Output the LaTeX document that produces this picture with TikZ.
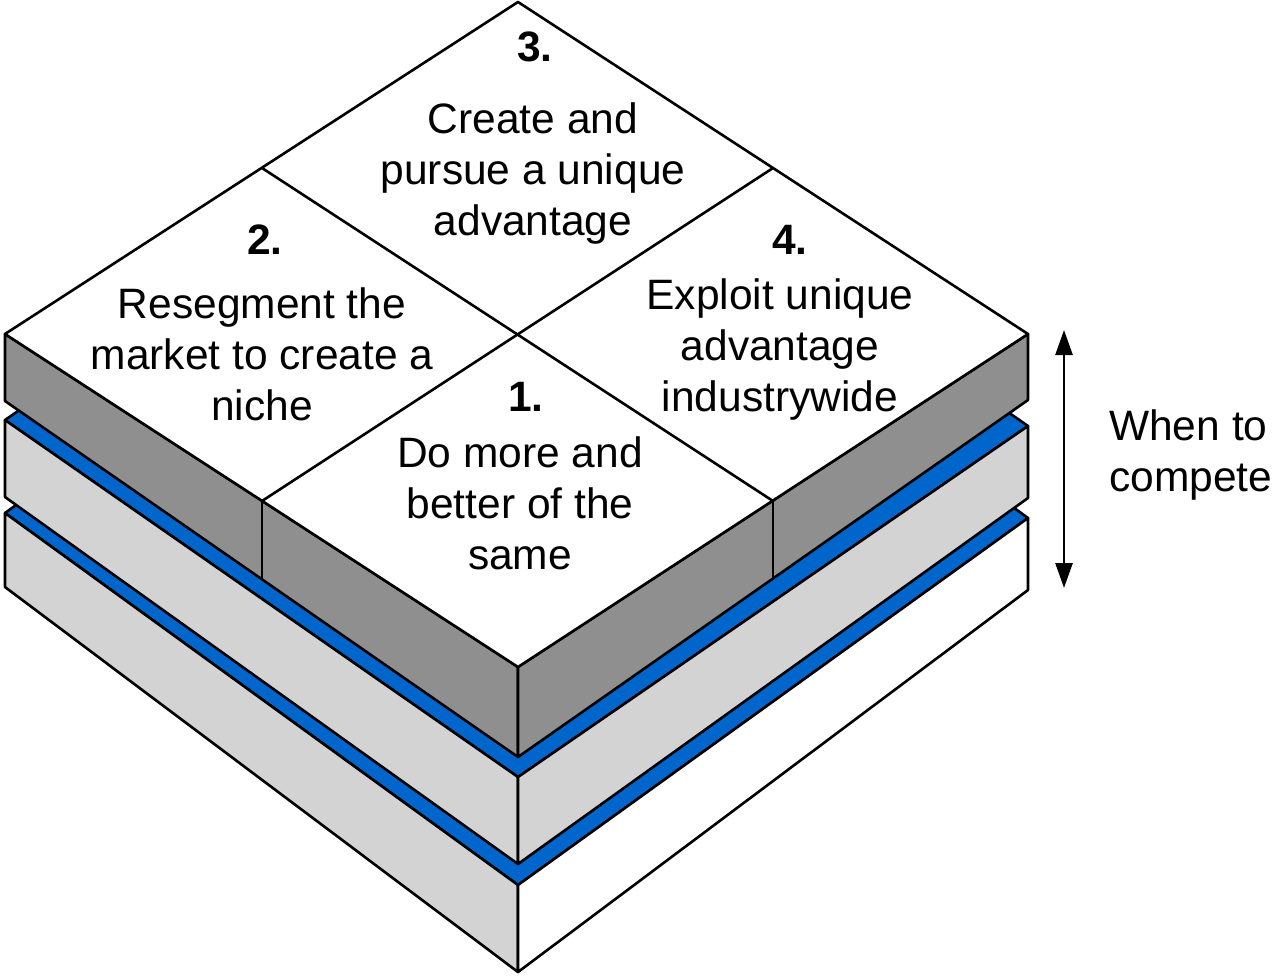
\documentclass[tikz,border=0pt]{standalone}
\usepackage{fontspec}
\setmainfont{Liberation Sans}
\usetikzlibrary{arrows.meta}
\definecolor{darkface}{RGB}{143,143,143}
\definecolor{lightface}{RGB}{211,211,211}
\definecolor{bluetop}{RGB}{0,102,204}
\tikzset{
  face/.style={draw=black, line width=2.6pt, line join=round},
  divider/.style={draw=black, line width=2.6pt, line cap=round},
  lbl/.style={align=center, inner sep=0pt, font=\fontsize{42.5}{51}\selectfont},
  num/.style={inner sep=0pt, font=\fontsize{42.5}{51}\selectfont\bfseries},
  sidelbl/.style={align=left, anchor=west, inner sep=0pt, font=\fontsize{42.5}{51}\selectfont},
  dblarrow/.style={line width=2.6pt, {Triangle[length=25pt,width=17pt]}-{Triangle[length=25pt,width=17pt]}}
}
\begin{document}
\begin{tikzpicture}[x=1pt,y=-1pt]
\useasboundingbox (0,0) rectangle (1273,975);
% block (top)
\coordinate (T) at (518,2);
\coordinate (L) at (5,334);
\coordinate (R) at (1028,334);
\coordinate (B) at (518,667);
\coordinate (Lb) at (5,401);
\coordinate (Bb) at (518,757);
\coordinate (Rb) at (1028,400);
\coordinate (mTL) at (262,168);
\coordinate (mTR) at (773,168);
\coordinate (mLB) at (262,501);
\coordinate (mBR) at (773,501);
\coordinate (dL) at (262,579);
\coordinate (dR) at (773,579);
% slab 1
\coordinate (L1) at (5,420);
\coordinate (B1) at (518,777);
\coordinate (R1) at (1028,426);
\coordinate (T1) at (515,69);
\coordinate (L1b) at (5,497);
\coordinate (B1b) at (518,864);
\coordinate (R1b) at (1028,498);
% slab 2
\coordinate (L2) at (5,513);
\coordinate (B2) at (518,885);
\coordinate (R2) at (1028,518);
\coordinate (T2) at (515,146);
\coordinate (L2b) at (5,587);
\coordinate (B2b) at (518,972);
\coordinate (R2b) at (1028,590);

% slab 2 (bottom)
\filldraw[face, fill=bluetop] (L2) -- (T2) -- (R2) -- (B2) -- cycle;
\filldraw[face, fill=lightface] (L2) -- (B2) -- (B2b) -- (L2b) -- cycle;
\filldraw[face, fill=white] (B2) -- (R2) -- (R2b) -- (B2b) -- cycle;
% slab 1 (middle)
\filldraw[face, fill=bluetop] (L1) -- (T1) -- (R1) -- (B1) -- cycle;
\filldraw[face, fill=lightface] (L1) -- (B1) -- (B1b) -- (L1b) -- cycle;
\filldraw[face, fill=lightface] (B1) -- (R1) -- (R1b) -- (B1b) -- cycle;
% block
\filldraw[face, fill=darkface] (L) -- (B) -- (Bb) -- (Lb) -- cycle;
\filldraw[face, fill=darkface] (B) -- (R) -- (Rb) -- (Bb) -- cycle;
\filldraw[face, fill=white] (L) -- (T) -- (R) -- (B) -- cycle;
\draw[divider] (mTL) -- (mBR);
\draw[divider] (mTR) -- (mLB);
\draw[divider] (mLB) -- (dL);
\draw[divider] (mBR) -- (dR);

% labels
\node[num] (n3) at (535,47) {3.};
\node[lbl] (t3) at (533,174) {Create and\\pursue a unique\\advantage};
\node[num] (n2) at (265,240) {2.};
\node[lbl] (t2) at (262,354) {Resegment the\\market to create a\\niche};
\node[num] (n1) at (526,397) {1.};
\node[lbl] (t1) at (520,503) {Do more and\\better of the\\same};
\node[num] (n4) at (790,240) {4.};
\node[lbl] (t4) at (780,350) {Exploit unique\\advantage\\industrywide};

% arrow
\coordinate (aTop) at (1064,330);
\coordinate (aBot) at (1064,588);
\draw[dblarrow] (aTop) -- (aBot);
\node[sidelbl] (when) at (1109,455) {When to\\compete};
\end{tikzpicture}
\end{document}
